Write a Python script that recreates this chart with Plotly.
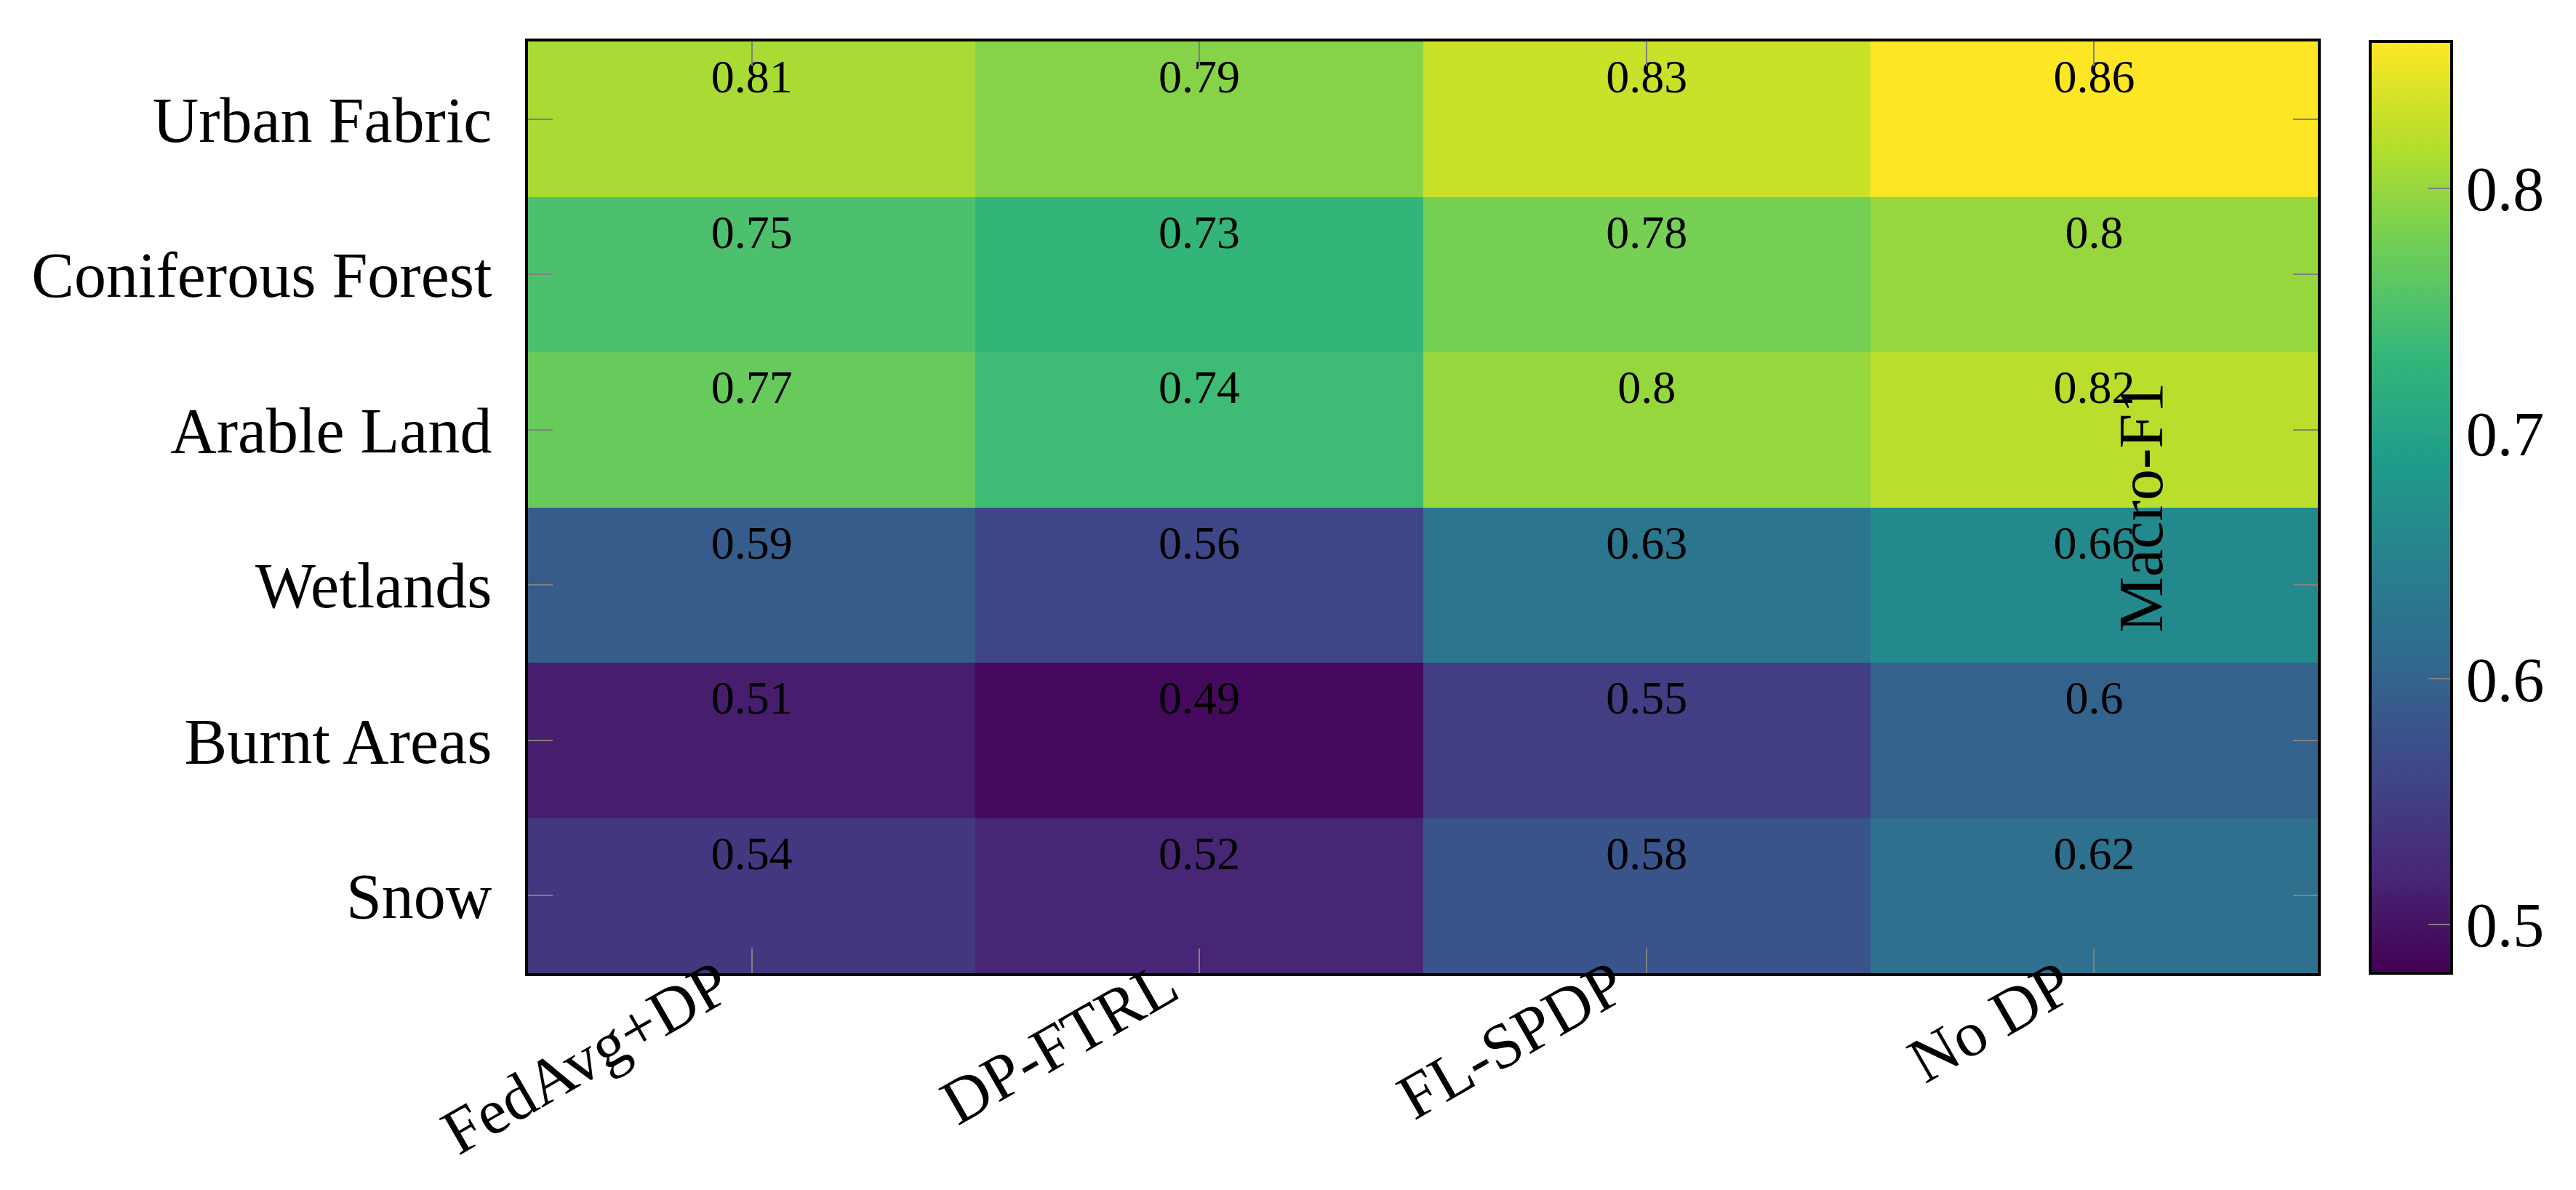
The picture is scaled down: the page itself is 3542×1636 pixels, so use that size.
import plotly.graph_objects as go

# --- data ---
methods = ["FedAvg+DP", "DP-FTRL", "FL-SPDP", "No DP"]
classes = ["Urban Fabric", "Coniferous Forest", "Arable Land", "Wetlands", "Burnt Areas", "Snow"]

urban_fabric = [0.81, 0.79, 0.83, 0.86]
coniferous_forest = [0.75, 0.73, 0.78, 0.80]
arable_land = [0.77, 0.74, 0.80, 0.82]
wetlands = [0.59, 0.56, 0.63, 0.66]
burnt_areas = [0.51, 0.49, 0.55, 0.60]
snow = [0.54, 0.52, 0.58, 0.62]

cbar_ticks = [0.5, 0.6, 0.7, 0.8]
z_min, z_max = 0.48, 0.86

z = [urban_fabric, coniferous_forest, arable_land, wetlands, burnt_areas, snow]

FONT = "Liberation Serif"
W, H = 3542, 1636
ML, MR, MT, MB = 718, 363, 49, 306
plot_w = W - ML - MR

xs = list(range(len(methods)))
ys = list(range(len(classes)))

fig = go.Figure()

fig.add_trace(go.Heatmap(
    x=xs, y=ys, z=z,
    colorscale="Viridis", zmin=z_min, zmax=z_max,
    hoverinfo="skip",
    colorbar=dict(
        x=(3251 - ML) / plot_w, xanchor="left", xpad=0,
        y=0.5, yanchor="middle", len=1, lenmode="fraction", ypad=0,
        thickness=112, thicknessmode="pixels",
        outlinecolor="black", outlinewidth=4,
        tickvals=cbar_ticks, ticktext=[f"{v:g}" for v in cbar_ticks],
        ticks="inside", ticklen=34, tickwidth=2, tickcolor="#808080",
        tickfont=dict(family=FONT, size=86, color="black"),
    ),
))

# value labels sit in the upper part of each cell
tx, ty, tt = [], [], []
for i, row in enumerate(z):
    for j, v in enumerate(row):
        tx.append(j)
        ty.append(i - 0.245)
        tt.append(f"{v:g}")

fig.add_trace(go.Scatter(
    x=tx, y=ty, text=tt, mode="text",
    textfont=dict(family=FONT, size=64, color="black"),
    hoverinfo="skip", showlegend=False,
))

# ticks on the left side of the colorbar
cb_x0 = (3254 - ML) / plot_w
cb_x1 = (3288 - ML) / plot_w
for v in cbar_ticks:
    yp = (v - z_min) / (z_max - z_min)
    fig.add_shape(type="line", xref="paper", yref="paper",
                  x0=cb_x0, x1=cb_x1, y0=yp, y1=yp,
                  line=dict(color="#808080", width=2))

fig.add_annotation(
    text="Macro-F1", xref="paper", yref="paper",
    x=(2985 - ML) / plot_w, y=0.5, textangle=-90,
    showarrow=False, font=dict(family=FONT, size=86, color="black"),
)

axis_common = dict(
    showline=True, linecolor="black", linewidth=4, mirror="ticks",
    ticks="inside", ticklen=34, tickwidth=2, tickcolor="#808080",
    showgrid=False, zeroline=False, automargin=False,
    tickfont=dict(family=FONT, size=88, color="black"),
)

fig.update_xaxes(
    tickvals=xs, ticktext=methods, range=[-0.5, len(methods) - 0.5],
    tickangle=-30, ticklabelstandoff=-72, ticklabelshift=-45, **axis_common,
)
fig.update_yaxes(
    tickvals=ys, ticktext=classes, range=[len(classes) - 0.5, -0.5],
    ticklabelstandoff=28, **axis_common,
)

fig.update_layout(
    width=W, height=H,
    margin=dict(l=ML, r=MR, t=MT, b=MB),
    plot_bgcolor="white", paper_bgcolor="white",
    font=dict(family=FONT, color="black"),
    showlegend=False,
)

fig.write_html("out.html")
